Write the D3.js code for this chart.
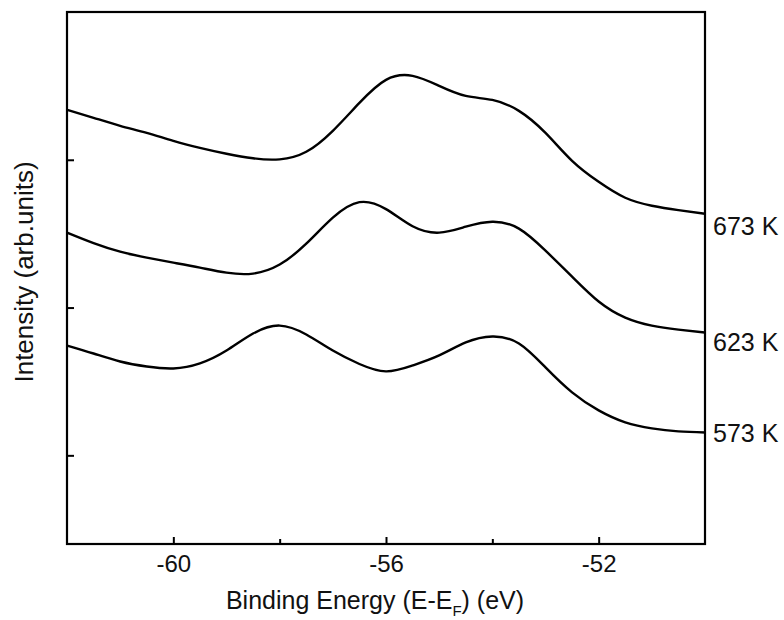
<!DOCTYPE html>
<html>
<head>
<meta charset="utf-8">
<script src="https://cdn.jsdelivr.net/npm/d3@7"></script>
<style>
  html, body { margin: 0; padding: 0; background: #fff; }
  svg { display: block; font-family: Arial, "Liberation Sans", sans-serif; }
</style>
</head>
<body>
<svg id="chart" width="784" height="620"></svg>
<script>
// Energy grid (eV, E - E_F)
const energy = [-62, -61.5, -61, -60.5, -60, -59.5, -59, -58.5, -58, -57.5, -57, -56.5,
                -56, -55.5, -55, -54.5, -54, -53.5, -53, -52.5, -52, -51.5, -51, -50.5, -50];

// Intensity (arb. units, offset per temperature)
const int673 = [2.338, 2.284, 2.230, 2.182, 2.128, 2.081, 2.041, 2.010, 2.003, 2.054, 2.196, 2.385,
                2.541, 2.568, 2.500, 2.432, 2.405, 2.331, 2.182, 1.993, 1.851, 1.743, 1.689, 1.659, 1.635];
const int623 = [1.507, 1.436, 1.378, 1.338, 1.304, 1.270, 1.236, 1.230, 1.291, 1.432, 1.608, 1.713,
                1.666, 1.550, 1.507, 1.547, 1.581, 1.534, 1.385, 1.209, 1.041, 0.932, 0.878, 0.851, 0.831];
const int573 = [0.743, 0.689, 0.635, 0.601, 0.588, 0.622, 0.709, 0.824, 0.878, 0.818, 0.709, 0.618,
                0.568, 0.608, 0.676, 0.764, 0.804, 0.757, 0.595, 0.426, 0.304, 0.223, 0.182, 0.162, 0.155];

const seriesNames = ["673 K", "623 K", "573 K"];
const labelLevels = [1.554, 0.764, 0.149];

const xMajorTicks = [-60, -56, -52];
const xMinorTicks = [-58, -54];
const yTicks = [0, 1, 2];

const xLabel = "Binding Energy (E-E";
const xLabelSub = "F";
const xLabelEnd = ") (eV)";
const yLabel = "Intensity (arb.units)";

// ---------- layout ----------
const margin = { left: 67, top: 12, right: 79, bottom: 76 };
const W = 784, H = 620;
const w = W - margin.left - margin.right;
const h = H - margin.top - margin.bottom;

const svg = d3.select("#chart");
const g = svg.append("g").attr("transform", `translate(${margin.left},${margin.top})`);

const x = d3.scaleLinear().domain([-62, -50]).range([0, w]);
const y = d3.scaleLinear().domain([-0.6, 3.0]).range([h, 0]);

const series = [int673, int623, int573].map((vals, i) => ({
  name: seriesNames[i],
  level: labelLevels[i],
  points: energy.map((e, j) => [e, vals[j]])
}));

const line = d3.line()
  .x(d => x(d[0]))
  .y(d => y(d[1]))
  .curve(d3.curveNatural);

g.selectAll("path.curve")
  .data(series)
  .join("path")
  .attr("class", "curve")
  .attr("fill", "none")
  .attr("stroke", "#000")
  .attr("stroke-width", 2.4)
  .attr("stroke-linejoin", "round")
  .attr("d", d => line(d.points));

// axes
const fs = 24;
const xMajor = g.append("g")
  .attr("transform", `translate(0,${h})`)
  .call(d3.axisBottom(x).tickValues(xMajorTicks).tickSizeInner(-7).tickSizeOuter(0).tickPadding(11)
        .tickFormat(d3.format("d")));
const xMinor = g.append("g")
  .attr("transform", `translate(0,${h})`)
  .call(d3.axisBottom(x).tickValues(xMinorTicks).tickSizeInner(-5).tickSizeOuter(0).tickFormat(""));
const yAx = g.append("g")
  .call(d3.axisLeft(y).tickValues(yTicks).tickSizeInner(-7).tickSizeOuter(0).tickFormat(""));

[xMajor, xMinor, yAx].forEach(a => {
  a.select(".domain").remove();
  a.selectAll(".tick line").attr("stroke", "#000").attr("stroke-width", 2);
  a.selectAll(".tick text").attr("fill", "#111").attr("font-size", fs)
    .attr("font-family", "Arial, 'Liberation Sans', sans-serif");
});
xMajor.selectAll(".tick text").text(d => d3.format("d")(d).replace("−", "-"));

// frame
g.append("rect")
  .attr("x", 0).attr("y", 0).attr("width", w).attr("height", h)
  .attr("fill", "none").attr("stroke", "#000").attr("stroke-width", 2.2);

// series labels
g.selectAll("text.slabel")
  .data(series)
  .join("text")
  .attr("class", "slabel")
  .attr("x", w + 8)
  .attr("y", d => y(d.level))
  .attr("dy", "0.36em")
  .attr("font-size", 25)
  .attr("fill", "#111")
  .text(d => d.name);

// axis titles
const xt = svg.append("text")
  .attr("x", 375)
  .attr("y", 609)
  .attr("text-anchor", "middle")
  .attr("font-size", 25)
  .attr("fill", "#111");
xt.append("tspan").text(xLabel);
xt.append("tspan").attr("font-size", 15).attr("dy", 7).text(xLabelSub);
xt.append("tspan").attr("dy", -7).text(xLabelEnd);

svg.append("text")
  .attr("transform", `translate(24,272) rotate(-90)`)
  .attr("text-anchor", "middle")
  .attr("dy", "0.36em")
  .attr("font-size", 26)
  .attr("fill", "#111")
  .text(yLabel);
</script>
</body>
</html>
